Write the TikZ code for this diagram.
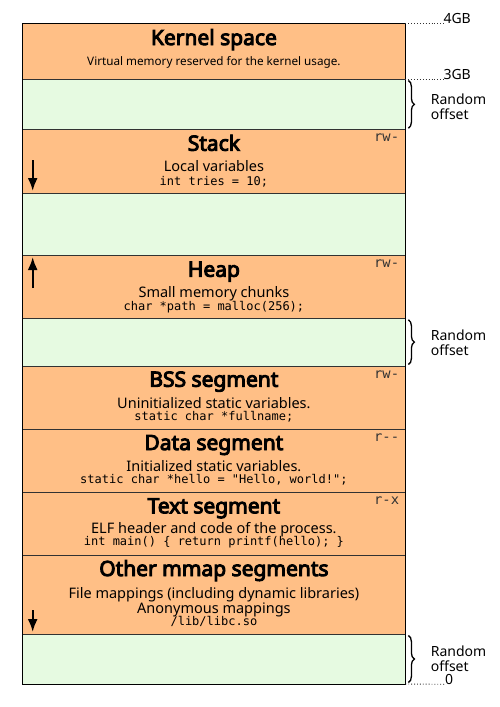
\documentclass[tikz,border=0pt]{standalone}
\usepackage{fontspec}
\setmainfont{Noto Sans}[AutoFakeBold=4.6]
\setmonofont{DejaVu Sans Mono}
\usetikzlibrary{arrows.meta,decorations.pathreplacing,calc}
\definecolor{segorange}{RGB}{255,191,134}
\definecolor{gapgreen}{RGB}{230,250,225}
\definecolor{edge}{RGB}{50,50,50}

\begin{document}
\begin{tikzpicture}[x=1pt,y=-1pt,
  band/.style={draw=edge, line width=0.9pt, minimum width=383.4pt, inner sep=0pt, outer sep=0pt, anchor=north west},
  seg/.style={band, fill=segorange},
  free/.style={band, fill=gapgreen},
  title/.style={font=\fontsize{21}{24}\selectfont\bfseries, anchor=base, inner sep=0pt, text depth=2pt},
  desc/.style={font=\fontsize{14.5}{17}\selectfont, anchor=base, inner sep=0pt, text depth=1pt},
  smalldesc/.style={font=\fontsize{11.7}{13}\selectfont, anchor=base, inner sep=0pt},
  code/.style={font=\fontsize{12}{14}\ttfamily, anchor=base, inner sep=0pt, text height=8pt},
  perm/.style={font=\fontsize{13.8}{16}\ttfamily, text=black!80, anchor=base east, inner sep=0pt},
  sidelabel/.style={font=\fontsize{14}{15}\selectfont, inner sep=0pt, anchor=base west},
  growarrow/.style={-{Latex[length=13pt,width=10pt]}, line width=2.2pt},
  brc/.style={decorate, decoration={brace, amplitude=6pt}, line width=1.3pt},
  lead/.style={dotted, line width=0.9pt, black!80}
]
\useasboundingbox (0,0) rectangle (500,707);

% memory regions, top (high addresses) to bottom
\node[seg,  minimum height=55.7pt] (kern)  at (22,23.3)  {};
\node[free, minimum height=50.7pt] (rnd1)  at (22,79)    {};
\node[seg,  minimum height=63.6pt] (stack) at (22,129.7) {};
\node[free, minimum height=61.7pt] (hole)  at (22,193.3) {};
\node[seg,  minimum height=63.3pt] (heap)  at (22,255)   {};
\node[free, minimum height=47.7pt] (rnd2)  at (22,318.3) {};
\node[seg,  minimum height=63.3pt] (bss)   at (22,366)   {};
\node[seg,  minimum height=63.4pt] (data)  at (22,429.3) {};
\node[seg,  minimum height=63pt]   (text)  at (22,492.7) {};
\node[seg,  minimum height=78.3pt] (mmap)  at (22,555.7) {};
\node[free, minimum height=50pt]   (rnd3)  at (22,634)   {};
\draw[black, line width=1pt] (kern.north west) rectangle (rnd3.south east);

% region labels
\node[title] (kernT) at (213.9,45) {Kernel space};
\node[smalldesc] (kernD) at (213.9,65.7) {Virtual memory reserved for the kernel usage.};

\node[title] (stackT) at (213.9,150.7) {Stack};
\node[desc]  (stackD) at (213.9,171.7) {Local variables};
\node[code]  (stackC) at (213.9,185) {int tries = 10;};
\node[perm]  (stackP) at (399.3,141.7) {rw-};

\node[title] (heapT) at (213.9,276.7) {Heap};
\node[desc]  (heapD) at (213.9,297.3) {Small memory chunks};
\node[code]  (heapC) at (213.9,310) {char *path = malloc(256);};
\node[perm]  (heapP) at (399.3,267) {rw-};

\node[title] (bssT) at (213.9,386.7) {BSS segment};
\node[desc]  (bssD) at (213.9,408.3) {Uninitialized static variables.};
\node[code]  (bssC) at (213.9,420) {static char *fullname;};
\node[perm]  (bssP) at (399.3,378) {rw-};

\node[title] (dataT) at (213.9,450) {Data segment};
\node[desc]  (dataD) at (213.9,471.7) {Initialized static variables.};
\node[code]  (dataC) at (213.9,483.3) {static char *hello = "Hello, world!";};
\node[perm]  (dataP) at (399.3,441.3) {r-{}-};

\node[title] (textT) at (213.9,513.3) {Text segment};
\node[desc]  (textD) at (213.9,533.3) {ELF header and code of the process.};
\node[code]  (textC) at (213.9,545) {int main() \{ return printf(hello); \}};
\node[perm]  (textP) at (399.3,504.7) {r-x};

\node[title] (mmapT) at (213.9,576) {Other mmap segments};
\node[desc]  (mmapD) at (213.9,598.3) {File mappings (including dynamic libraries)};
\node[desc]  (mmapE) at (213.9,613.3) {Anonymous mappings};
\node[code]  (mmapC) at (213.9,625) {/lib/libc.so};

% growth directions
\coordinate (sA) at (32.7,160);
\coordinate (sB) at (32.7,191);
\draw[growarrow] (sA) -- (sB);
\coordinate (hA) at (32.7,288);
\coordinate (hB) at (32.7,257);
\draw[growarrow] (hA) -- (hB);
\coordinate (mA) at (32.7,610);
\coordinate (mB) at (32.7,632);
\draw[growarrow] (mA) -- (mB);

% address marks
\node[sidelabel] (g4) at (443.3,23.3) {4GB};
\draw[lead] (kern.north east) -- (g4.base west);
\node[sidelabel] (g3) at (443.3,79) {3GB};
\draw[lead] (rnd1.north east) -- (g3.base west);
\node[sidelabel] (g0) at (445,684.3) {0};
\draw[lead] (rnd3.south east) -- (g0.base west);

% randomised offsets (node base = baseline of the last line)
\draw[brc] ($(rnd1.north east)+(3,1.5)$) -- ($(rnd1.south east)+(3,-1.5)$);
\node[sidelabel, align=left] (ro1) at (430.7,119) {Random\\offset};
\draw[brc] ($(rnd2.north east)+(3,1.5)$) -- ($(rnd2.south east)+(3,-1.5)$);
\node[sidelabel, align=left] (ro2) at (430.7,355.7) {Random\\offset};
\draw[brc] ($(rnd3.north east)+(3,1.5)$) -- ($(rnd3.south east)+(3,-1.5)$);
\node[sidelabel, align=left] (ro3) at (430.7,671) {Random\\offset};
\end{tikzpicture}
\end{document}
